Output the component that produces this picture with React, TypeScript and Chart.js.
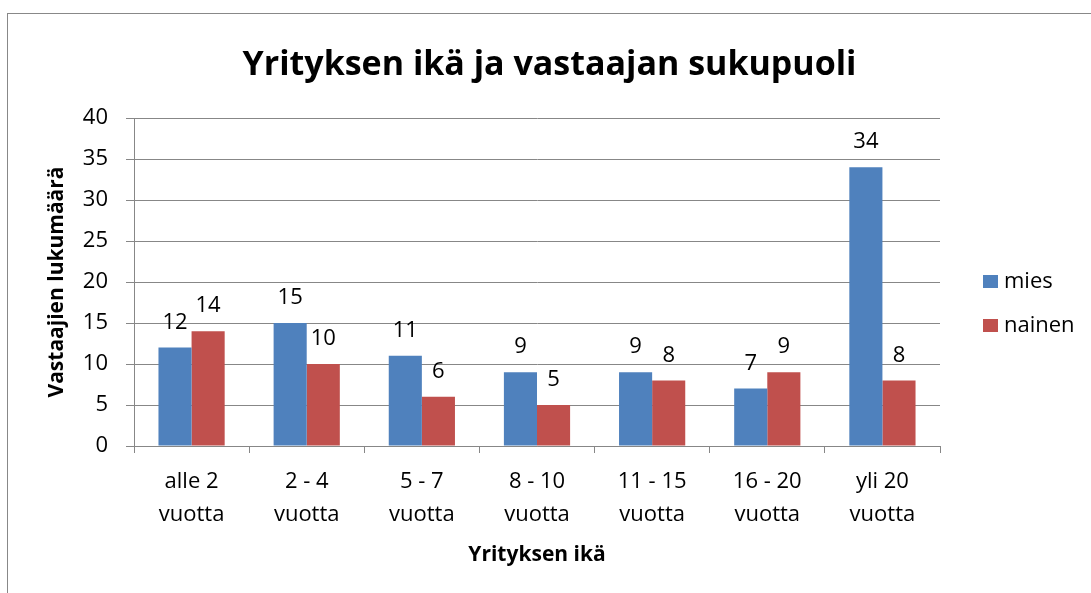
import React, { useEffect, useRef } from 'react';
import { Chart, registerables } from 'chart.js';

Chart.register(...registerables);

const FONT = '"Open Sans", "Noto Sans", sans-serif';
const GRID = '#878787';

const chartTitle = 'Yrityksen ikä ja vastaajan sukupuoli';
const xAxisTitle = 'Yrityksen ikä';
const yAxisTitle = 'Vastaajien lukumäärä';
const categories: string[][] = [
  ['alle 2', 'vuotta'],
  ['2 - 4', 'vuotta'],
  ['5 - 7', 'vuotta'],
  ['8 - 10', 'vuotta'],
  ['11 - 15', 'vuotta'],
  ['16 - 20', 'vuotta'],
  ['yli 20', 'vuotta'],
];
const seriesNames = ['mies', 'nainen'];
const miesValues = [12, 15, 11, 9, 9, 7, 34];
const nainenValues = [14, 10, 6, 5, 8, 9, 8];
const seriesColors = ['#4F81BD', '#C0504D'];
const yMin = 0;
const yMax = 40;
const yStep = 5;

const LABEL_SIZE = 22;

const dataLabelsPlugin = {
  id: 'dataLabels',
  afterDatasetsDraw(chart: any) {
    const ctx = chart.ctx;
    ctx.save();
    ctx.font = `${LABEL_SIZE}px ${FONT}`;
    ctx.fillStyle = '#000';
    ctx.textAlign = 'center';
    ctx.textBaseline = 'middle';
    chart.data.datasets.forEach((ds: any, i: number) => {
      const meta = chart.getDatasetMeta(i);
      meta.data.forEach((el: any, j: number) => {
        ctx.fillText(String(ds.data[j]), el.x, el.y - 25);
      });
    });
    ctx.restore();
  },
};

const sideLegendPlugin = {
  id: 'sideLegend',
  afterDraw(chart: any) {
    const ctx = chart.ctx;
    const area = chart.chartArea;
    const x = area.right + 43;
    const centerY = chart.height / 2;
    const gap = 44;
    ctx.save();
    ctx.font = `${LABEL_SIZE}px ${FONT}`;
    ctx.textAlign = 'left';
    ctx.textBaseline = 'middle';
    chart.data.datasets.forEach((ds: any, i: number) => {
      const cy = centerY + (i - (chart.data.datasets.length - 1) / 2) * gap;
      ctx.fillStyle = ds.backgroundColor;
      ctx.fillRect(x, cy - 7, 15, 13);
      ctx.fillStyle = '#000';
      ctx.fillText(ds.label, x + 21, cy);
    });
    ctx.restore();
  },
};

export default function App() {
  const canvasRef = useRef<HTMLCanvasElement | null>(null);

  useEffect(() => {
    if (!canvasRef.current) return;
    const chart = new Chart(canvasRef.current, {
      type: 'bar',
      data: {
        labels: categories,
        datasets: [
          {
            label: seriesNames[0],
            data: miesValues,
            backgroundColor: seriesColors[0],
            borderWidth: 0,
            categoryPercentage: 0.575,
            barPercentage: 1,
            xAxisID: 'x',
            yAxisID: 'y',
          },
          {
            label: seriesNames[1],
            data: nainenValues,
            backgroundColor: seriesColors[1],
            borderWidth: 0,
            categoryPercentage: 0.575,
            barPercentage: 1,
            xAxisID: 'x',
            yAxisID: 'y',
          },
        ],
      },
      options: {
        responsive: false,
        animation: false,
        devicePixelRatio: 1,
        layout: { padding: 0 },
        plugins: {
          legend: { display: false },
          tooltip: { enabled: false },
          title: {
            display: true,
            text: chartTitle,
            color: '#000',
            font: { family: FONT, size: 34, weight: 'bold', lineHeight: 1.2 },
            padding: { top: 31, bottom: 32.2 },
          },
        },
        scales: {
          x: {
            grid: { drawOnChartArea: false, color: GRID, tickLength: 7, offset: true },
            border: { color: GRID },
            ticks: {
              color: '#000',
              font: { family: FONT, size: LABEL_SIZE, lineHeight: 1.5 },
              padding: 12.5,
              maxRotation: 0,
              autoSkip: false,
            },
            title: {
              display: true,
              text: xAxisTitle,
              color: '#000',
              font: { family: FONT, size: 21, weight: 'bold', lineHeight: 1.2 },
              padding: { top: 0, bottom: 26.4 },
            },
            afterFit(s: any) {
              s.height = 148;
            },
          },
          y: {
            min: yMin,
            max: yMax,
            grid: { color: GRID, tickLength: 8 },
            border: { color: GRID },
            ticks: {
              stepSize: yStep,
              color: '#000',
              font: { family: FONT, size: LABEL_SIZE },
              padding: 18,
            },
            title: {
              display: true,
              text: yAxisTitle,
              color: '#000',
              font: { family: FONT, size: 21, weight: 'bold', lineHeight: 1.2 },
              padding: { top: 36.4, bottom: 0 },
            },
            afterFit(s: any) {
              s.width = 126;
            },
          },
          reserve: {
            type: 'linear',
            position: 'right',
            display: true,
            grid: { display: false },
            border: { display: false },
            ticks: { display: false },
            afterFit(s: any) {
              s.width = 151;
            },
          },
        },
      } as any,
      plugins: [dataLabelsPlugin, sideLegendPlugin],
    });
    return () => chart.destroy();
  }, []);

  return (
    <div
      style={{
        position: 'fixed',
        left: 7,
        top: 13,
        width: 1200,
        height: 700,
        borderLeft: '1px solid #888',
        borderTop: '1px solid #888',
        background: '#fff',
      }}
    >
      <canvas
        ref={canvasRef}
        width={1083}
        height={580}
        style={{ position: 'absolute', left: 0, top: 0, width: 1083, height: 580 }}
      />
    </div>
  );
}
